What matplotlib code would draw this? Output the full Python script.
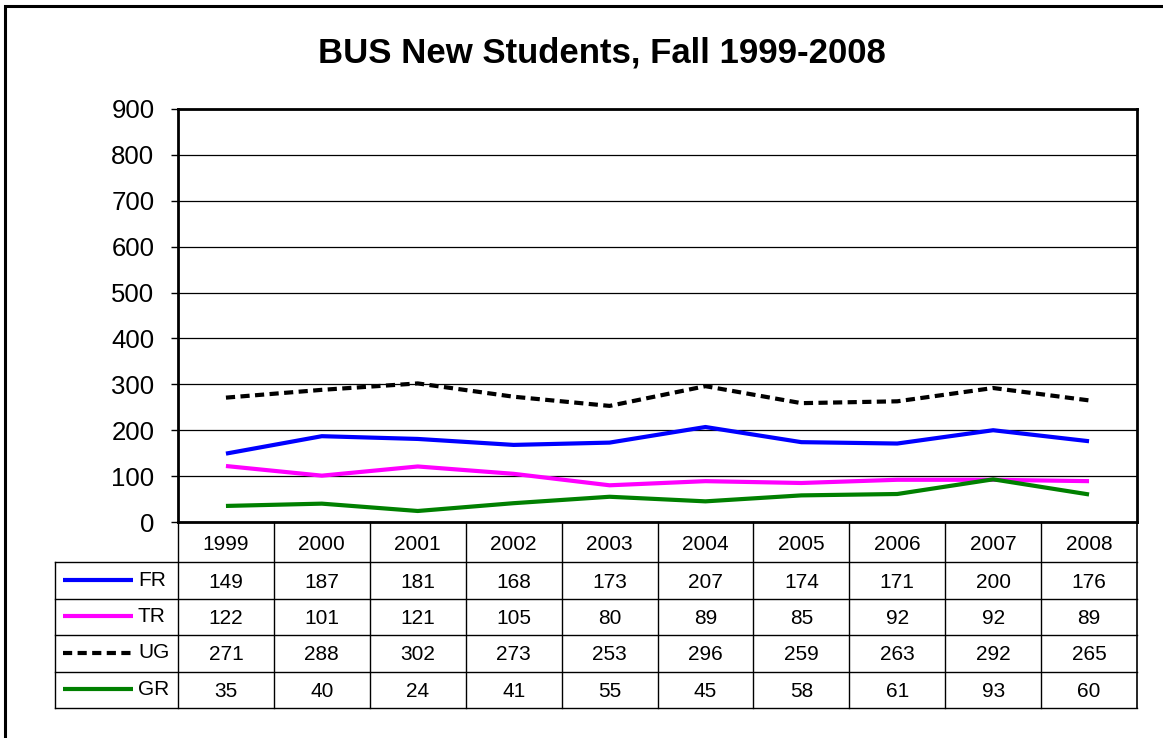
import matplotlib
matplotlib.use("Agg")
import matplotlib.pyplot as plt
from matplotlib.patches import Rectangle

plt.rcParams['font.family'] = ['Liberation Sans', 'DejaVu Sans']

years = ['1999', '2000', '2001', '2002', '2003', '2004', '2005', '2006', '2007', '2008']
series_names = ['FR', 'TR', 'UG', 'GR']
fr = [149, 187, 181, 168, 173, 207, 174, 171, 200, 176]
tr = [122, 101, 121, 105, 80, 89, 85, 92, 92, 89]
ug = [271, 288, 302, 273, 253, 296, 259, 263, 292, 265]
gr = [35, 40, 24, 41, 55, 45, 58, 61, 93, 60]
yticks = [0, 100, 200, 300, 400, 500, 600, 700, 800, 900]
title = 'BUS New Students, Fall 1999-2008'

W, H = 1163, 738
fig = plt.figure(figsize=(W / 100, H / 100), dpi=100)

def fx(px):
    return px / W

def fy(py):
    return 1 - py / H

# outer frame
fig.patches.append(Rectangle((fx(5), fy(760)), fx(1200) - fx(5), fy(6) - fy(760),
                             transform=fig.transFigure, fill=False, lw=2.2,
                             edgecolor='black', zorder=0))

L, R, T, B = 178, 1137, 109, 522
ax = fig.add_axes([fx(L), fy(B), fx(R) - fx(L), fy(T) - fy(B)])
x = list(range(len(years)))
styles = [
    dict(color='#0000FF', lw=3.0, ls='-'),
    dict(color='#FF00FF', lw=3.0, ls='-'),
    dict(color='black', lw=3.0, ls=(0, (2.2, 1.3))),
    dict(color='#008000', lw=3.0, ls='-'),
]
data = [fr, tr, ug, gr]
for vals, st in zip(data, styles):
    ax.plot(x, vals, solid_capstyle='butt', dash_capstyle='butt', **st)

ax.set_xlim(-0.5, len(years) - 0.5)
ax.set_ylim(0, 900)
ax.set_yticks(yticks)
ax.set_yticklabels([str(v) for v in yticks], fontsize=18.5)
ax.tick_params(axis='y', length=5, width=1, pad=12, direction='out')
ax.set_xticks([])
ax.grid(axis='y', color='black', lw=0.9)
ax.set_axisbelow(True)
for s in ax.spines.values():
    s.set_linewidth(2)

# data table
TL, TB = 55, 708
tax = fig.add_axes([fx(TL), fy(TB), fx(R) - fx(TL), fy(B) - fy(TB)])
colw = (R - L) / len(years)
x0 = -0.5 - (L - TL) / colw
tax.set_xlim(x0, len(years) - 0.5)
row_edges = [0, 40, 77, 113, 150, 186]
tax.set_ylim(186, 0)
tax.axis('off')
lc = 'black'
lw = 1.0
for yy in row_edges[1:]:
    tax.plot([x0, len(years) - 0.5], [yy, yy], color=lc, lw=lw, clip_on=False)
for k in range(len(years) + 1):
    tax.plot([k - 0.5, k - 0.5], [0, 186], color=lc, lw=lw if k < len(years) else 1.2, clip_on=False)
tax.plot([x0, x0], [row_edges[1], 186], color=lc, lw=lw, clip_on=False)

fs = 15
hc = (row_edges[0] + row_edges[1]) / 2
for i, yr in enumerate(years):
    tax.text(i, hc + 2, yr, ha='center', va='center', fontsize=fs)
for r, (name, vals, st) in enumerate(zip(series_names, data, styles)):
    yc = (row_edges[r + 1] + row_edges[r + 2]) / 2
    for i, v in enumerate(vals):
        tax.text(i, yc + 1.5, str(v), ha='center', va='center', fontsize=fs)
    kx0 = x0 + (63 - TL) / colw
    kx1 = x0 + (133 - TL) / colw
    tax.plot([kx0, kx1], [yc - 1, yc - 1], solid_capstyle='butt', dash_capstyle='butt',
             clip_on=False, **st)
    tax.text(x0 + (138 - TL) / colw, yc - 0.5, name, ha='left', va='center', fontsize=fs)

fig.text(fx(602), fy(53), title, ha='center', va='center', fontsize=25, fontweight='bold')

fig.savefig('out.png', dpi=100)
